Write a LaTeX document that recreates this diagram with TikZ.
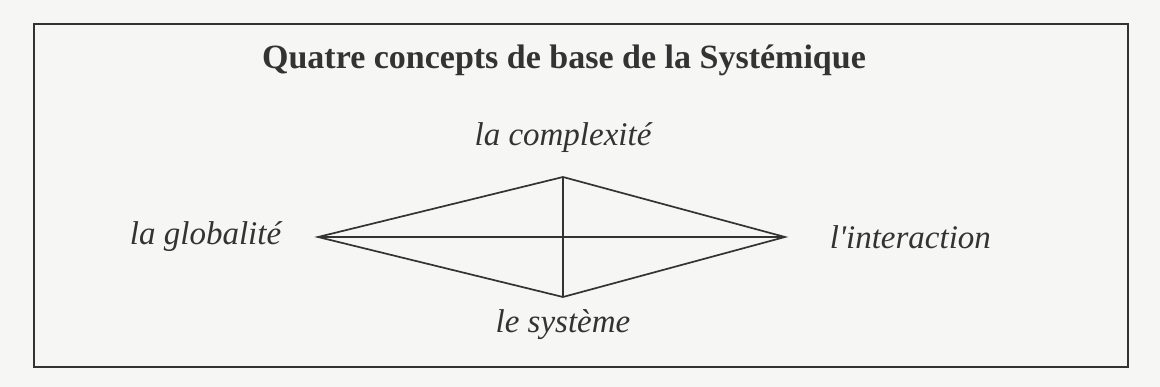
\documentclass[tikz,border=0pt]{standalone}
\usepackage{fontspec}
\setmainfont{Liberation Serif}
\usetikzlibrary{positioning}
\definecolor{ink}{HTML}{333333}
\definecolor{paper}{HTML}{F6F6F4}

\begin{document}
\begin{tikzpicture}[x=1pt,y=-1pt,line width=1.7pt,draw=ink,
  concept/.style={font=\fontsize{33}{38}\selectfont\itshape,text=ink,inner sep=0pt}]
\fill[paper] (0,0) rectangle (1160,387);
\useasboundingbox (0,0) rectangle (1160,387);
\draw[ink] (34,24) rectangle (1128,367);
\node[font=\fontsize{34}{40}\selectfont\bfseries,text=ink] (title) at (564,60) {Quatre concepts de base de la Systémique};
% sommets du losange
\coordinate (L) at (318,237);
\coordinate (R) at (785,237);
\coordinate (T) at (563,177);
\coordinate (B) at (563,297);
\draw[ink] (L)--(T)--(R)--(B)--cycle;
\draw[ink] (L)--(R);
\draw[ink] (T)--(B);
\node[concept] (cplx) at (563,138) {la complexité};
\node[concept,left=36pt of L] (glob) {la globalité};
\node[concept,right=44pt of R] (inter) {l\textquotesingle interaction};
\node[concept] (syst) at (563,325) {le système};
\end{tikzpicture}
\end{document}
